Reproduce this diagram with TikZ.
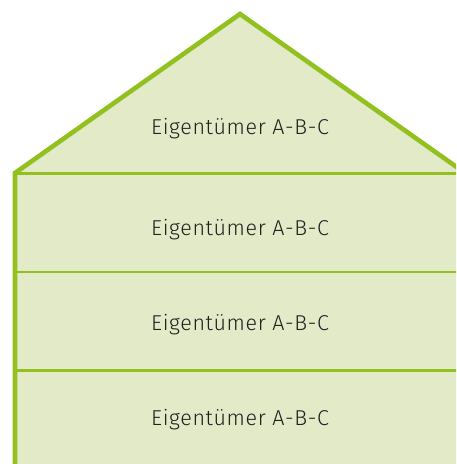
\documentclass[tikz,border=0pt]{standalone}
\usepackage{fontspec}
\setmainfont{Fira Sans}[UprightFont=* Light, LetterSpace=2.9]
\definecolor{hgreen}{HTML}{92C01F}
\definecolor{hfill}{HTML}{E3EAC8}
\tikzset{
  floorlabel/.style={font=\fontsize{21.5pt}{25pt}\selectfont, text=black!88, inner sep=0pt, anchor=base},
  floorline/.style={draw=hgreen, line width=2.2pt},
  outline/.style={draw=hgreen, line width=4.6pt, line join=miter}
}
\begin{document}
\begin{tikzpicture}[x=1pt,y=-1pt]
\useasboundingbox (0,0) rectangle (456,464);
\begin{scope}
\clip (0,0) rectangle (456,464);
\fill[hfill] (15,173) -- (240,14) -- (466,173) -- (466,470) -- (15,470) -- cycle;
\draw[floorline] (15,173.5) -- (470,173.5);
\draw[floorline] (15,272) -- (470,272);
\draw[floorline] (15,370.5) -- (470,370.5);
\draw[outline] (15,470) -- (15,173) -- (240,14) -- (480,183.5);
\end{scope}
\node[floorlabel] (f4) at (240,134) {Eigentümer A-B-C};
\node[floorlabel] (f3) at (240,235) {Eigentümer A-B-C};
\node[floorlabel] (f2) at (240,330.5) {Eigentümer A-B-C};
\node[floorlabel] (f1) at (240,425) {Eigentümer A-B-C};
\end{tikzpicture}
\end{document}
